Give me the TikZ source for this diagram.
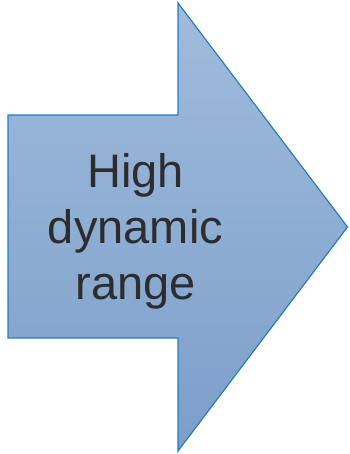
\documentclass[tikz,border=0pt]{standalone}
\usepackage{fontspec}
\setmainfont{Liberation Sans}
\definecolor{arrowtop}{RGB}{160,188,220}
\definecolor{arrowbot}{RGB}{124,158,202}
\definecolor{arrowline}{RGB}{40,125,185}
\definecolor{labeltext}{RGB}{45,45,45}
\begin{document}
\begin{tikzpicture}[x=1pt,y=1pt]
\useasboundingbox (0,0) rectangle (349,454);
\draw[arrowline,line width=1.2pt,top color=arrowtop,bottom color=arrowbot]
  (8,339) -- (178,339) -- (178,451) -- (347.5,227) -- (178,3) -- (178,116) -- (8,116) -- cycle;

\node[labeltext,align=center,font=\fontsize{47}{56}\selectfont] (label) at (135.5,223) {High\\dynamic\\range};
\end{tikzpicture}
\end{document}
